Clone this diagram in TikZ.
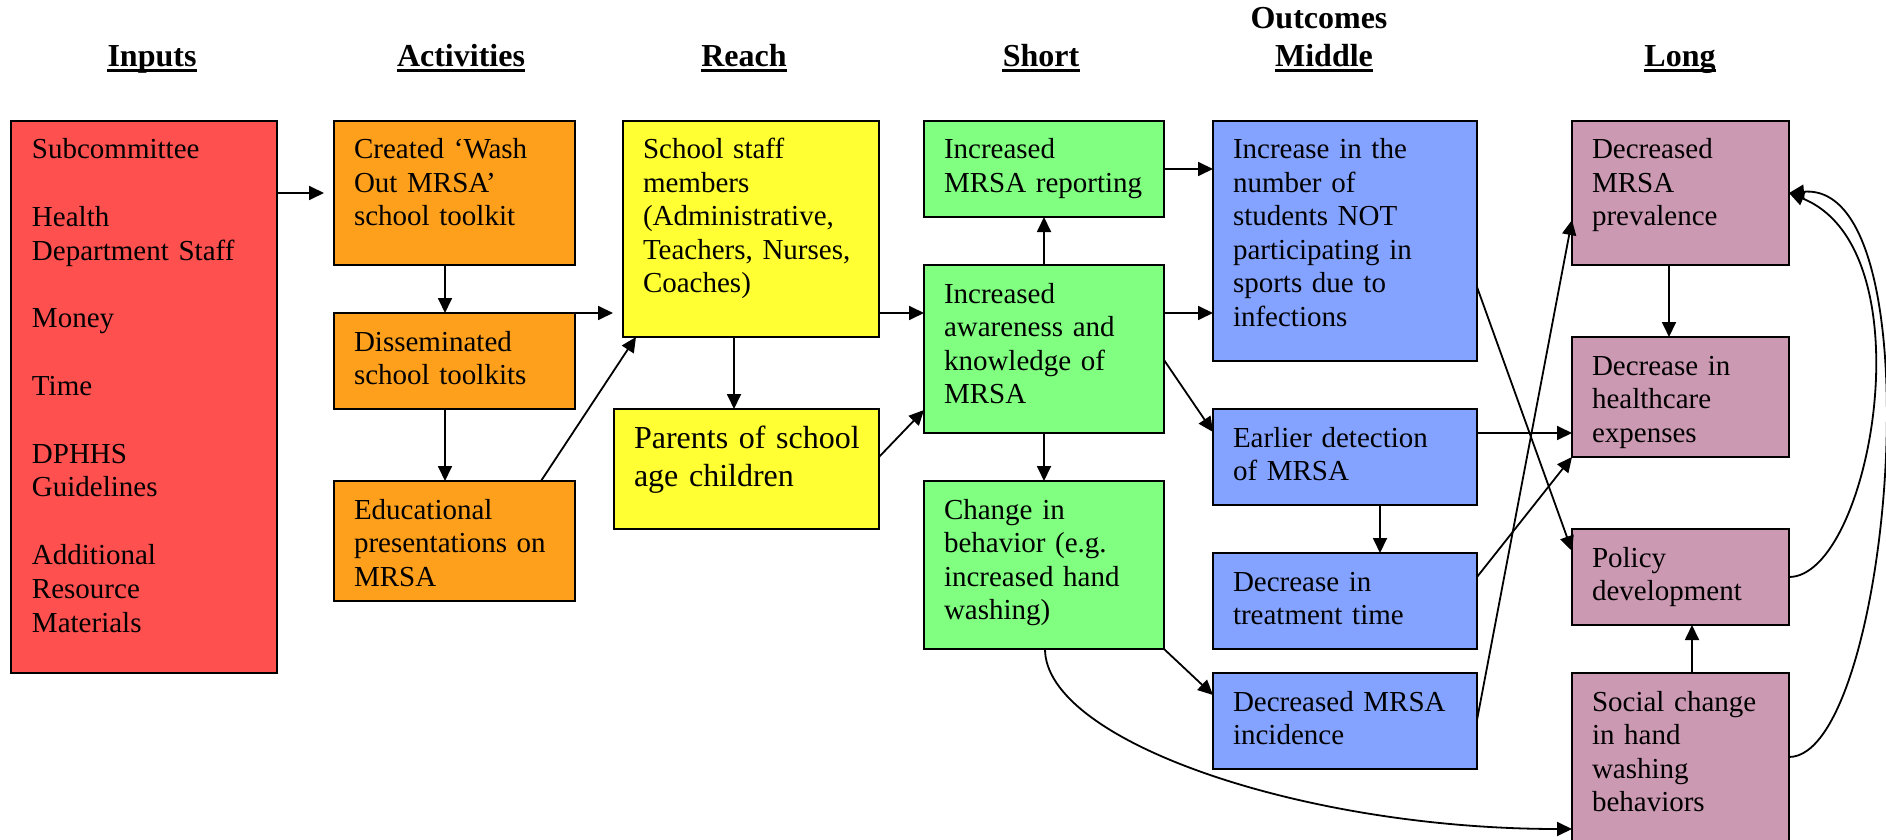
\documentclass[tikz,border=0pt]{standalone}
\usepackage{fontspec}
\setmainfont{Liberation Serif}
\usetikzlibrary{arrows.meta}
\definecolor{cred}{HTML}{FF5050}
\definecolor{corange}{HTML}{FFA01C}
\definecolor{cyellow}{HTML}{FFFF33}
\definecolor{cgreen}{HTML}{80FF80}
\definecolor{cblue}{HTML}{84A2FF}
\definecolor{cmauve}{HTML}{CC99B3}
\tikzset{
  box/.style={draw=black, line width=0.85pt, rectangle, anchor=north west, inner sep=0pt, outer sep=0pt},
  txt/.style={anchor=north west, inner sep=0pt, outer sep=0pt, align=left, text width=6cm,
              font=\fontsize{14.5pt}{16.75pt}\selectfont},
  hdr/.style={anchor=base, inner sep=0pt, font=\bfseries\fontsize{16pt}{19pt}\selectfont},
  conn/.style={line width=0.9pt, -{Triangle[length=7.5pt,width=7pt]}},
}
\newcommand\bx[7]{%
  \node[box, fill=#2, minimum width={(#5-#3)*0.5pt}, minimum height={(#6-#4)*0.5pt}] (#1) at (#3,#4) {};
  \node[txt] (#1t) at ([shift={(20,10)}]#1.north west) {\rule{0pt}{14pt}#7};
}
\begin{document}
\begin{tikzpicture}[x=0.5pt,y=-0.5pt]
\fill[white] (0,0) rectangle (1886,840);
\useasboundingbox (0,0) rectangle (1886,840);

% headers
\node[hdr] (hin) at (152,67) {Inputs};
\node[hdr] (hact) at (461,67) {Activities};
\node[hdr] (hrea) at (744,67) {Reach};
\node[hdr] (hsho) at (1041,67) {Short};
\node[hdr] (hout) at (1319,29) {Outcomes};
\node[hdr] (hmid) at (1324,67) {Middle};
\node[hdr] (hlon) at (1680,67) {Long};
\foreach \h in {hin,hact,hrea,hsho,hmid,hlon}
  \draw[line width=1.5pt] ([yshift=-1.9pt]\h.base west) -- ([yshift=-1.9pt]\h.base east);

% boxes
\node[box, fill=cred, minimum width={(277-11)*0.5pt}, minimum height={(673-121)*0.5pt}] (inp) at (11,121) {};
\node[txt, font=\fontsize{14.5pt}{16.9pt}\selectfont] (inpt) at ([shift={(21,10)}]inp.north west) {\rule{0pt}{14pt}Subcommittee\\[\baselineskip]Health\\Department Staff\\[\baselineskip]Money\\[\baselineskip]Time\\[\baselineskip]DPHHS\\Guidelines\\[\baselineskip]Additional\\Resource\\Materials};
\bx{cr}{corange}{334}{121}{575}{265}{Created ‘Wash\\Out MRSA’\\school toolkit}
\bx{dis}{corange}{334}{313}{575}{409}{Disseminated\\school toolkits}
\bx{edu}{corange}{334}{481}{575}{601}{Educational\\presentations on\\MRSA}
\bx{staff}{cyellow}{623}{121}{879}{337}{School staff\\members\\(Administrative,\\Teachers, Nurses,\\Coaches)}
\node[box, fill=cyellow, minimum width={(879-614)*0.5pt}, minimum height={(529-409)*0.5pt}] (par) at (614,409) {};
\node[txt, font=\fontsize{16pt}{19pt}\selectfont] (part) at ([shift={(20,11)}]par.north west) {\rule{0pt}{14pt}Parents of school\\age children};
\bx{rep}{cgreen}{924}{121}{1164}{217}{Increased\\MRSA reporting}
\bx{awa}{cgreen}{924}{265}{1164}{433}{Increased\\awareness and\\knowledge of\\MRSA}
\bx{chg}{cgreen}{924}{481}{1164}{649}{Change in\\behavior (e.g.\\increased hand\\washing)}
\bx{num}{cblue}{1213}{121}{1477}{361}{Increase in the\\number of\\students NOT\\participating in\\sports due to\\infections}
\bx{ear}{cblue}{1213}{409}{1477}{505}{Earlier detection\\of MRSA}
\bx{trt}{cblue}{1213}{553}{1477}{649}{Decrease in\\treatment time}
\bx{inc}{cblue}{1213}{673}{1477}{769}{Decreased MRSA\\incidence}
\bx{prev}{cmauve}{1572}{121}{1789}{265}{Decreased\\MRSA\\prevalence}
\bx{hc}{cmauve}{1572}{337}{1789}{457}{Decrease in\\healthcare\\expenses}
\bx{pol}{cmauve}{1572}{529}{1789}{625}{Policy\\development}
\bx{soc}{cmauve}{1572}{673}{1789}{850}{Social change\\in hand\\washing\\behaviors}

% connectors
\draw[conn, shorten >=5pt] (inp.east |- 0,193) -- (cr.west |- 0,193);
\draw[conn] (cr.south -| 445,0) -- (dis.north -| 445,0);
\draw[conn] (dis.south -| 445,0) -- (edu.north -| 445,0);
\draw[conn, shorten >=5pt] (dis.north -| 565,0) -- (staff.west |- 0,313);
\draw[conn] (edu.north -| 541,0) -- (staff.south -| 636,0);
\draw[conn] (staff.south -| 734,0) -- (par.north -| 734,0);
\draw[conn] (staff.east |- 0,313) -- (awa.west |- 0,313);
\draw[conn] (par.east |- 0,457) -- (awa.west |- 0,410);
\draw[conn] (awa.north -| 1044,0) -- (rep.south -| 1044,0);
\draw[conn] (rep.east |- 0,169) -- (num.west |- 0,169);
\draw[conn] (awa.east |- 0,313) -- (num.west |- 0,313);
\draw[conn] (awa.east |- 0,360) -- (ear.west |- 0,432);
\draw[conn] (awa.south -| 1044,0) -- (chg.north -| 1044,0);
\draw[conn] (chg.south east) -- (inc.west |- 0,695);
\draw[conn] (chg.south -| 1045,0) .. controls (1045,740) and (1300,829) .. (soc.west |- 0,829);
\draw[conn] (num.east |- 0,287) -- (pol.west |- 0,551);
\draw[conn] (inc.east |- 0,720) -- (prev.west |- 0,220);
\draw[conn] (ear.east |- 0,433) -- (hc.west |- 0,433);
\draw[conn] (trt.east |- 0,577) -- (hc.south west);
\draw[conn] (ear.south -| 1380,0) -- (trt.north -| 1380,0);
\draw[conn] (prev.south -| 1669,0) -- (hc.north -| 1669,0);
\draw[conn] (soc.north -| 1692,0) -- (pol.south -| 1692,0);
\draw[conn] (pol.east |- 0,577) .. controls (1870,577) and (1930,250) .. (prev.east |- 0,193);
\draw[conn] (soc.east |- 0,757) .. controls (1890,757) and (1940,180) .. (prev.east |- 0,193);
\end{tikzpicture}
\end{document}
